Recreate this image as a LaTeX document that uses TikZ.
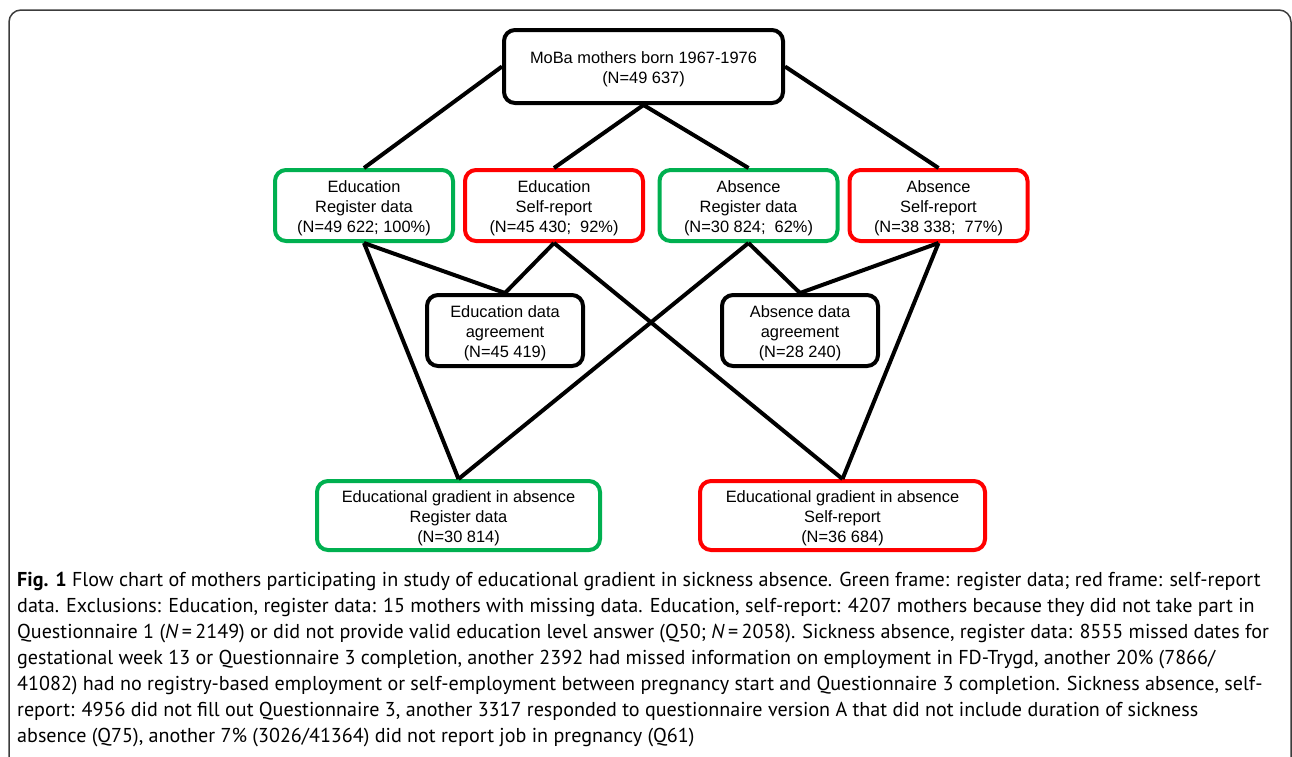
\documentclass[tikz,border=0pt]{standalone}
\usepackage{fontspec}
\setmainfont{Liberation Sans}
\newfontfamily\capfont{PT Sans}
\definecolor{regGreen}{RGB}{0,176,80}
\definecolor{selfRed}{RGB}{255,0,0}
\definecolor{frameGray}{RGB}{60,60,60}
\newcommand\toppad{\rule{0pt}{17pt}}
\tikzset{
  box/.style={draw=black, line width=4pt, rounded corners=11pt, fill=white,
    align=center, inner sep=0pt, font=\fontsize{16.4}{20}\selectfont},
  regbox/.style={box, draw=regGreen},
  selfbox/.style={box, draw=selfRed},
  link/.style={line width=4pt, black},
}
\begin{document}
\begin{tikzpicture}[x=1pt,y=-1pt]
\useasboundingbox (0,0) rectangle (1292,756);
% outer frame
\draw[frameGray, line width=1.5pt, rounded corners=12pt] (9,800) -- (9,10) -- (1291,10) -- (1291,800);

\node[box, minimum width=279pt, minimum height=73pt] (top) at (643.5,66.5) {\toppad MoBa mothers born 1967-1976\\(N=49 637)};
\node[regbox, minimum width=178pt, minimum height=71pt] (edureg) at (364,205.5) {\toppad Education\\Register data\\(N=49 622; 100\%)};
\node[selfbox, minimum width=178pt, minimum height=71pt] (eduself) at (554,205.5) {\toppad Education\\Self-report\\(N=45 430;\ \ 92\%)};
\node[regbox, minimum width=178pt, minimum height=71pt] (absreg) at (748.5,205.5) {\toppad Absence\\Register data\\(N=30 824;\ \ 62\%)};
\node[selfbox, minimum width=178pt, minimum height=71pt] (absself) at (938.5,205.5) {\toppad Absence\\Self-report\\(N=38 338;\ \ 77\%)};
\node[box, minimum width=156pt, minimum height=71pt] (eduagr) at (505,330.5) {\toppad Education data\\agreement\\(N=45 419)};
\node[box, minimum width=156pt, minimum height=71pt] (absagr) at (800,330.5) {\toppad Absence data\\agreement\\(N=28 240)};
\node[regbox, minimum width=283pt, minimum height=69pt] (gradreg) at (458.5,515.5) {\toppad Educational gradient in absence\\Register data\\(N=30 814)};
\node[selfbox, minimum width=285pt, minimum height=69pt] (gradself) at (842.5,515.5) {\toppad Educational gradient in absence\\Self-report\\(N=36 684)};

\draw[link] (top.west) -- (edureg.north);
\draw[link] (top.south) -- (eduself.north);
\draw[link] (top.south) -- (absreg.north);
\draw[link] (top.east) -- (absself.north);
\draw[link] (edureg.south) -- (eduagr.north);
\draw[link] (eduself.south) -- (eduagr.north);
\draw[link] (absreg.south) -- (absagr.north);
\draw[link] (absself.south) -- (absagr.north);
\draw[link] (edureg.south) -- (gradreg.north);
\draw[link] (absreg.south) -- (gradreg.north);
\draw[link] (eduself.south) -- (gradself.north);
\draw[link] (absself.south) -- (gradself.north);

% caption
\node[anchor=north west, inner sep=0pt, align=left, font=\capfont\fontsize{20.1}{26}\selectfont] (caption) at (17,572) {%
\textbf{Fig. 1} Flow chart of mothers participating in study of educational gradient in sickness absence. Green frame: register data; red frame: self-report\\
data. Exclusions: Education, register data: 15 mothers with missing data. Education, self-report: 4207 mothers because they did not take part in\\
Questionnaire 1 (\textit{N}\,=\,2149) or did not provide valid education level answer (Q50; \textit{N}\,=\,2058). Sickness absence, register data: 8555 missed dates for\\
gestational week 13 or Questionnaire 3 completion, another 2392 had missed information on employment in FD-Trygd, another 20\% (7866/\\
41082) had no registry-based employment or self-employment between pregnancy start and Questionnaire 3 completion. Sickness absence, self-\\
report: 4956 did not fill out Questionnaire 3, another 3317 responded to questionnaire version A that did not include duration of sickness\\
absence (Q75), another 7\% (3026/41364) did not report job in pregnancy (Q61)};
\end{tikzpicture}
\end{document}
